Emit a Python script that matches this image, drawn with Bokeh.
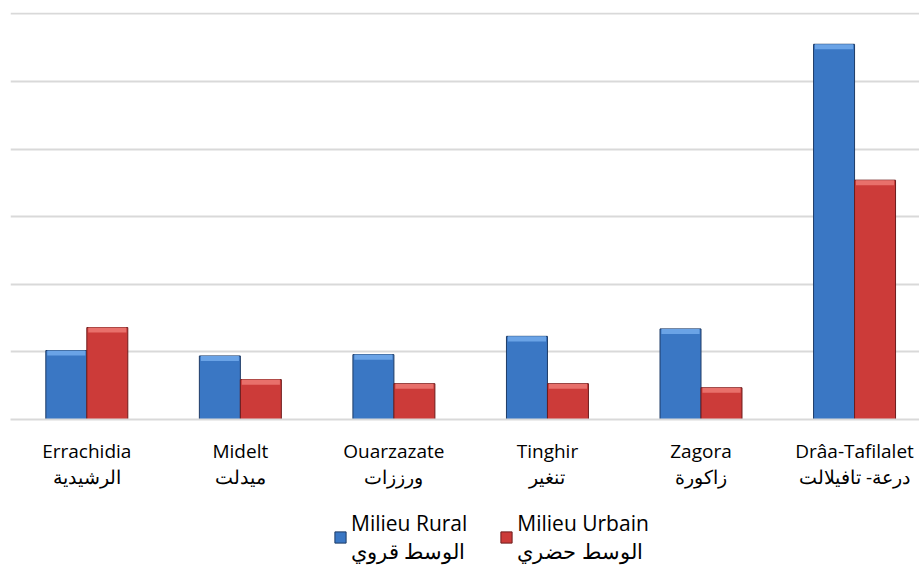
from bokeh.plotting import figure
from bokeh.layouts import column
from bokeh.models import (ColumnDataSource, Range1d, FixedTicker, Legend, LegendItem)
from bokeh.transform import dodge
from bokeh.embed import file_html
from bokeh.resources import INLINE

# ---- data (units: one gridline = 100) ----
categories_fr = ["Errachidia", "Midelt", "Ouarzazate", "Tinghir", "Zagora", "Drâa-Tafilalet"]
categories_ar = ["الرشيدية", "ميدلت", "ورززات", "تنغير", "زاكورة", "درعة- تافيلالت"]
rural = [102, 94, 96, 123, 134, 555]
urban = [136, 59, 53, 53, 47, 354]
series_labels = ["Milieu Rural\nالوسط قروي", "Milieu Urbain\nالوسط حضري"]

BLUE, BLUE_EDGE, BLUE_HI = "#3a77c4", "#1d3b66", "#6aa3e6"
RED, RED_EDGE, RED_HI = "#cc3b39", "#6e1c1c", "#e8706b"
FONT = "Open Sans"

idx = list(range(len(categories_fr)))
src = ColumnDataSource(dict(x=idx, rural=rural, urban=urban))

p = figure(width=919, height=500, output_backend="svg", toolbar_location=None,
           x_range=Range1d(-0.497, 5.423), y_range=Range1d(0, 602),
           min_border_left=10, min_border_right=0, min_border_top=12,
           min_border_bottom=81)
p.outline_line_color = None

bw = 0.267
r1 = p.vbar(x=dodge("x", -bw / 2, range=p.x_range), top="rural", width=bw, source=src,
            fill_color=BLUE, line_color=BLUE_EDGE, line_width=1)
r2 = p.vbar(x=dodge("x", bw / 2, range=p.x_range), top="urban", width=bw, source=src,
            fill_color=RED, line_color=RED_EDGE, line_width=1)

# light top bevel
bev = 7.5
src2 = ColumnDataSource(dict(x=idx,
                             rt=rural, rb=[v - bev for v in rural],
                             ut=urban, ub=[v - bev for v in urban]))
p.vbar(x=dodge("x", -bw / 2, range=p.x_range), top="rt", bottom="rb", width=bw * 0.93,
       source=src2, fill_color=BLUE_HI, line_color=None)
p.vbar(x=dodge("x", bw / 2, range=p.x_range), top="ut", bottom="ub", width=bw * 0.93,
       source=src2, fill_color=RED_HI, line_color=None)

# grid
p.xgrid.visible = False
p.ygrid.ticker = FixedTicker(ticks=[100, 200, 300, 400, 500, 600])
p.ygrid.grid_line_color = "#d9d9d9"
p.ygrid.grid_line_width = 2
p.yaxis.visible = False

# x axis
p.xaxis.ticker = FixedTicker(ticks=idx)
p.xaxis.major_label_overrides = {i: f"{fr}\n{ar}" for i, fr, ar in zip(idx, categories_fr, categories_ar)}
p.xaxis.axis_line_color = "#d9d9d9"
p.xaxis.axis_line_width = 2
p.xaxis.major_tick_line_color = None
p.xaxis.minor_tick_line_color = None
p.xaxis.major_label_standoff = 12
p.xaxis.major_label_text_font = FONT
p.xaxis.major_label_text_font_size = "19px"
p.xaxis.major_label_text_line_height = 1.0
p.xaxis.major_label_text_color = "#000000"

# legend in a strip below the chart
lg = figure(width=919, height=65, output_backend="svg", toolbar_location=None,
            x_range=Range1d(0, 1), y_range=Range1d(0, 1),
            min_border_left=0, min_border_right=0, min_border_top=0, min_border_bottom=0)
lg.outline_line_color = None
lg.axis.visible = False
lg.grid.visible = False
# legend-key renderers, kept outside the visible range
d1 = lg.vbar(x=[0.5], top=[-5], bottom=[-6], width=0.1, fill_color=BLUE, line_color=BLUE_EDGE)
d2 = lg.vbar(x=[0.5], top=[-5], bottom=[-6], width=0.1, fill_color=RED, line_color=RED_EDGE)
legend = Legend(items=[LegendItem(label=series_labels[0], renderers=[d1]),
                       LegendItem(label=series_labels[1], renderers=[d2])],
                orientation="horizontal", location=(323, 0),
                label_text_font=FONT, label_text_font_size="21px",
                label_text_color="#000000",
                glyph_width=14, glyph_height=14, spacing=32, label_standoff=4,
                padding=0, margin=0, border_line_color=None,
                background_fill_alpha=0)
lg.add_layout(legend)

open("out.html", "w").write(file_html(column(p, lg, spacing=0), INLINE))
